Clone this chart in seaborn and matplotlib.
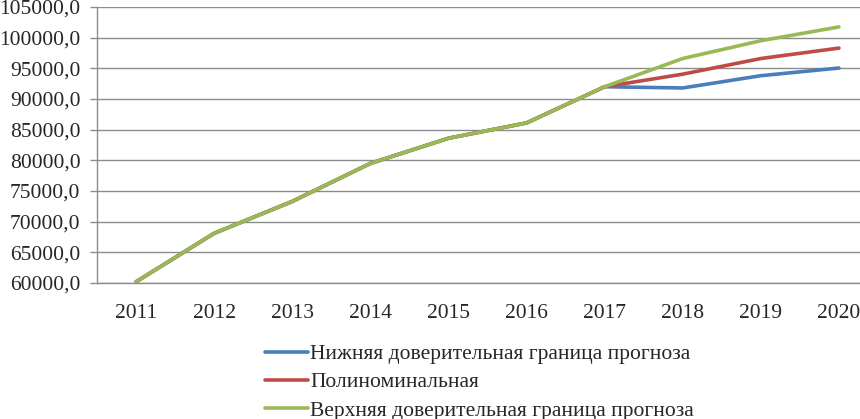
import matplotlib
matplotlib.use("Agg")
import matplotlib.pyplot as plt
from matplotlib.ticker import FuncFormatter, FixedLocator
import seaborn as sns
import pandas as pd
import numpy as np

years = ["2011", "2012", "2013", "2014", "2015", "2016", "2017", "2018", "2019", "2020"]
series_names = ["Нижняя доверительная граница прогноза", "Полиноминальная",
                "Верхняя доверительная граница прогноза"]
lower = [60200, 68100, 73300, 79500, 83600, 86100, 92000, 91800, 93800, 95050]
poly = [60200, 68100, 73300, 79500, 83600, 86100, 92000, 94050, 96600, 98300]
upper = [60200, 68100, 73300, 79500, 83600, 86100, 92000, 96600, 99500, 101750]
colors = ["#4A7EBB", "#BE4B48", "#98B954"]

rows = []
for name, vals in zip(series_names, [lower, poly, upper]):
    for i, (y, v) in enumerate(zip(years, vals)):
        rows.append({"pos": i, "year": y, "value": v, "series": name})
df = pd.DataFrame(rows)

sns.set_style("white")
plt.rcParams["font.family"] = ["Liberation Serif", "DejaVu Serif"]

fs = 15.5

fig = plt.figure(figsize=(8.6, 4.19), dpi=100)
ax = fig.add_axes([97 / 860, 1 - 283 / 419, (878 - 97) / 860, (283 - 7) / 419])

sns.lineplot(data=df, x="pos", y="value", hue="series", hue_order=series_names,
             palette=colors, linewidth=2.6, ax=ax, legend=False, sort=False)

ax.set_xlim(-0.5, 9.5)
ax.set_ylim(60000, 105000)
ax.set_yticks(np.arange(60000, 105001, 5000))
ax.yaxis.set_major_formatter(FuncFormatter(lambda v, p: f"{int(v)},0"))
ax.yaxis.grid(True, color="#8c8c8c", linewidth=1.0)
ax.set_axisbelow(True)

ax.set_xticks(range(len(years)))
ax.set_xticklabels(years)
ax.xaxis.set_minor_locator(FixedLocator(np.arange(-0.5, 10, 1)))
ax.tick_params(axis="x", which="major", length=0, pad=15, labelsize=fs)
ax.tick_params(axis="x", which="minor", length=5, width=1, color="#8c8c8c", direction="out")
ax.tick_params(axis="y", which="major", length=5, width=1, color="#8c8c8c", direction="out",
               pad=7, labelsize=fs, left=True)
ax.set_xlabel("")
ax.set_ylabel("")

for s in ["top", "right"]:
    ax.spines[s].set_visible(False)
for s in ["left", "bottom"]:
    ax.spines[s].set_color("#8c8c8c")
    ax.spines[s].set_linewidth(1.0)

handles = [plt.Line2D([], [], color=c, linewidth=2.6) for c in colors]
fig.legend(handles, series_names, loc="upper left", bbox_to_anchor=(265 / 860, 1 - 344 / 419),
           frameon=False, fontsize=fs, handlelength=2.0, handletextpad=0.1,
           labelspacing=0.38, borderpad=0, borderaxespad=0)

fig.savefig("out.png", dpi=100)
